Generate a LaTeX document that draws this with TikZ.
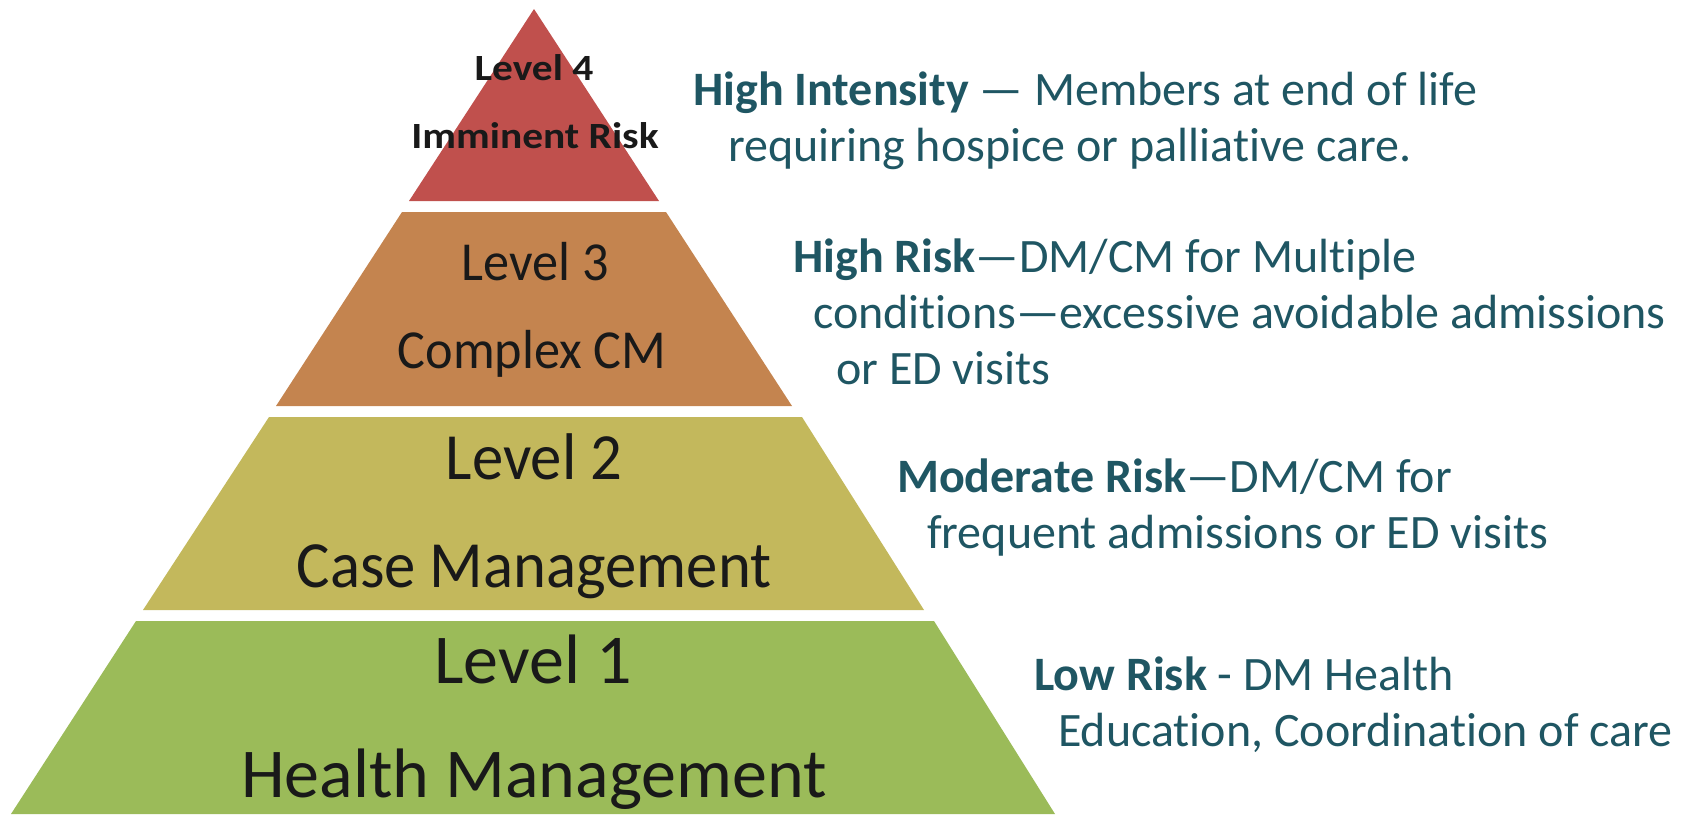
\documentclass[tikz,border=0pt]{standalone}
\usepackage{fontspec}
\setmainfont{Carlito}[Ligatures={NoCommon}]
\newfontfamily\piramide{Carlito}[FakeStretch=0.95,Ligatures={NoCommon}]
\newfontfamily\cima{Carlito}[FakeStretch=1.12,Ligatures={NoCommon}]
\definecolor{nivelcuatro}{RGB}{192,80,77}
\definecolor{niveltres}{RGB}{196,132,79}
\definecolor{niveldos}{RGB}{195,184,92}
\definecolor{niveluno}{RGB}{155,187,89}
\definecolor{textoazul}{RGB}{31,86,99}

\begin{document}
\begin{tikzpicture}[x=1pt,y=-1pt,
    nivel/.style={anchor=base,inner sep=0pt,text=black!90},
    desc/.style={anchor=base west,inner sep=0pt,text=textoazul,font=\fontsize{48}{56}\selectfont}]
                \useasboundingbox (0,0) rectangle (1685,814);
                % Piramide de niveles
                \fill[nivelcuatro] (534,9) -- (659,201) -- (409,201) -- cycle;
                \fill[niveltres] (402,212) -- (666,212) -- (792,406) -- (276,406) -- cycle;
                \fill[niveldos] (269,417) -- (802,417) -- (924,610) -- (143,610) -- cycle;
                \fill[niveluno] (136,621) -- (934,621) -- (1055,814) -- (11,814) -- cycle;

                \node[nivel,font=\cima\fontsize{37}{40}\selectfont\bfseries] (l4a) at (534,80) {Level 4};
                \node[nivel,font=\cima\fontsize{37}{40}\selectfont\bfseries] (l4b) at (535,148) {Imminent Risk};
                \node[nivel,font=\piramide\fontsize{55}{64}\selectfont] (l3a) at (535,280) {Level 3};
                \node[nivel,font=\piramide\fontsize{55}{64}\selectfont] (l3b) at (532,368) {Complex CM};
                \node[nivel,font=\piramide\fontsize{66}{72}\selectfont] (l2a) at (534,479) {Level 2};
                \node[nivel,font=\piramide\fontsize{66}{72}\selectfont] (l2b) at (534,587) {Case Management};
                \node[nivel,font=\fontsize{70}{76}\selectfont] (l1a) at (533,683) {Level 1};
                \node[nivel,font=\fontsize{70}{76}\selectfont] (l1b) at (534,797) {Health Management};

                % Descripciones
                \node[desc] (d4a) at (693,105) {\textbf{High Intensity} — Members at end of life};
                \node[desc] (d4b) at (728,161) {requiring hospice or palliative care.};
                \node[desc] (d3a) at (793,272) {\textbf{High Risk}—DM/CM for Multiple};
                \node[desc] (d3b) at (813,328) {conditions—excessive avoidable admissions};
                \node[desc] (d3c) at (836,384) {or ED visits};
                \node[desc] (d2a) at (897,492) {\textbf{Moderate Risk}—DM/CM for};
                \node[desc] (d2b) at (927,548) {frequent admissions or ED visits};
                \node[desc] (d1a) at (1034,690) {\textbf{Low Risk} - DM Health};
                \node[desc] (d1b) at (1058,746) {Education, Coordination of care};
            \end{tikzpicture}
\end{document}
